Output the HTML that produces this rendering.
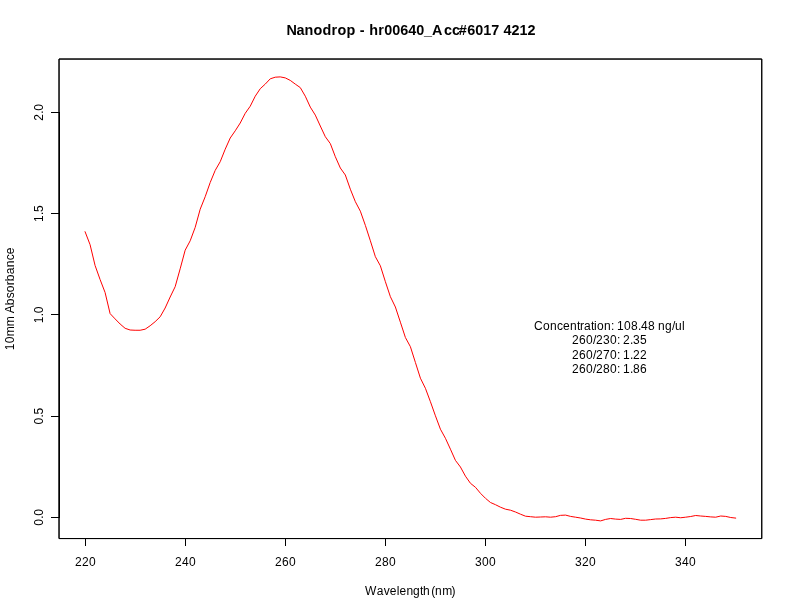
<!DOCTYPE html>
<html><head><meta charset="utf-8"><title>Nanodrop</title>
<style>
html,body{margin:0;padding:0;background:#fff;}
body{width:792px;height:612px;overflow:hidden;}
svg{display:block;will-change:transform;}
text{font-family:"Liberation Sans",sans-serif;font-size:12px;fill:#000;}
</style></head><body>
<svg width="792" height="612" viewBox="0 0 792 612">
<rect width="792" height="612" fill="#fff"/>
<rect x="59.04" y="59.04" width="702.72" height="479.52" fill="none" stroke="#000" stroke-width="1" stroke-linejoin="round"/>
<rect x="59.04" y="59.04" width="702.72" height="479.52" fill="none" stroke="#000" stroke-width="1" stroke-linejoin="round"/>
<path d="M85.00 538.50H686.00" stroke="#000" stroke-width="1" fill="none"/>
<path d="M85.50 538.00V546.00" stroke="#000" stroke-width="1" fill="none"/>
<text x="75.00 82.00 89.00" y="566.00">220</text>
<path d="M185.50 538.00V546.00" stroke="#000" stroke-width="1" fill="none"/>
<text x="175.00 182.00 189.00" y="566.00">240</text>
<path d="M285.50 538.00V546.00" stroke="#000" stroke-width="1" fill="none"/>
<text x="275.00 282.00 289.00" y="566.00">260</text>
<path d="M385.50 538.00V546.00" stroke="#000" stroke-width="1" fill="none"/>
<text x="375.00 382.00 389.00" y="566.00">280</text>
<path d="M485.50 538.00V546.00" stroke="#000" stroke-width="1" fill="none"/>
<text x="475.00 482.00 489.00" y="566.00">300</text>
<path d="M585.50 538.00V546.00" stroke="#000" stroke-width="1" fill="none"/>
<text x="575.00 582.00 589.00" y="566.00">320</text>
<path d="M685.50 538.00V546.00" stroke="#000" stroke-width="1" fill="none"/>
<text x="675.00 682.00 689.00" y="566.00">340</text>
<path d="M51.00 517.50H60.00" stroke="#000" stroke-width="1" fill="none"/>
<text transform="translate(43.10 517.35) rotate(-90)" x="-8.50 -1.50 1.50" y="0">0.0</text>
<path d="M51.00 416.50H60.00" stroke="#000" stroke-width="1" fill="none"/>
<text transform="translate(43.10 416.10) rotate(-90)" x="-8.50 -1.50 1.50" y="0">0.5</text>
<path d="M51.00 314.50H60.00" stroke="#000" stroke-width="1" fill="none"/>
<text transform="translate(43.10 314.85) rotate(-90)" x="-8.50 -1.50 1.50" y="0">1.0</text>
<path d="M51.00 213.50H60.00" stroke="#000" stroke-width="1" fill="none"/>
<text transform="translate(43.10 213.60) rotate(-90)" x="-8.50 -1.50 1.50" y="0">1.5</text>
<path d="M51.00 112.50H60.00" stroke="#000" stroke-width="1" fill="none"/>
<text transform="translate(43.10 112.35) rotate(-90)" x="-8.50 -1.50 1.50" y="0">2.0</text>
<path d="M59.50 112.00V518.00" stroke="#000" stroke-width="1" fill="none"/>
<text x="365.00 376.80 383.70 389.70 396.70 399.60 406.40 413.00 420.00 423.00 431.30 435.10 442.30 451.60" y="595.00">Wavelength(nm)</text>
<text transform="translate(14.30 298.80) rotate(-90)" x="-51.50 -44.50 -37.50 -27.50 -17.50 -14.50 -6.50 0.50 6.50 13.50 17.50 24.50 31.50 38.50 44.50" y="0">10mm Absorbance</text>
<text x="286.50 296.50 304.50 313.50 322.50 331.50 337.50 346.50 355.50 359.80 365.00 369.30 378.30 384.30 392.30 400.30 408.30 416.30 424.00 432.00 444.00 452.00 458.80 467.20 475.20 483.20 491.20 499.20 503.40 511.40 519.40 527.40" y="35.00" style="font-size:14.4px;font-weight:bold">Nanodrop - hr00640_Acc#6017 4212</text>
<text x="534.00 543.00 550.00 557.00 563.00 570.00 577.00 580.00 584.00 591.00 594.00 597.00 604.00 611.00 614.00 617.00 624.00 631.00 638.00 641.00 648.00 655.00 658.00 665.00 672.00 675.00 682.00" y="330.00">Concentration: 108.48 ng/ul</text>
<text x="572.00 579.00 586.00 593.00 596.00 603.00 610.00 617.00 620.00 623.00 630.00 633.00 640.00" y="344.00">260/230: 2.35</text>
<text x="572.00 579.00 586.00 593.00 596.00 603.00 610.00 617.00 620.00 623.00 630.00 633.00 640.00" y="359.00">260/270: 1.22</text>
<text x="572.00 579.00 586.00 593.00 596.00 603.00 610.00 617.00 620.00 623.00 630.00 633.00 640.00" y="373.00">260/280: 1.86</text>
<polyline points="85.07,231.70 90.08,244.70 95.08,265.50 100.09,279.50 105.09,292.50 110.10,313.60 115.10,318.90 120.11,324.00 125.11,328.30 130.12,330.00 135.12,330.25 140.13,330.25 145.13,329.20 150.14,325.75 155.14,321.70 160.15,316.80 165.15,308.00 170.16,297.00 175.16,286.70 180.17,268.80 185.17,250.20 190.18,240.80 195.18,227.40 200.19,209.20 205.19,196.70 210.20,182.50 215.20,170.40 220.21,161.70 225.21,149.20 230.22,138.00 235.22,130.80 240.23,123.00 245.23,113.30 250.24,106.20 255.24,96.20 260.25,88.70 265.25,84.10 270.26,78.80 275.26,77.20 280.27,76.90 285.27,77.90 290.28,80.40 295.28,84.10 300.29,87.60 305.29,96.20 310.30,107.10 315.30,115.10 320.31,126.00 325.31,136.70 330.32,143.60 335.32,156.70 340.33,168.00 345.34,175.00 350.34,189.20 355.35,201.70 360.35,211.20 365.36,225.40 370.36,240.80 375.37,256.70 380.37,265.80 385.38,281.70 390.38,296.70 395.39,307.00 400.39,322.20 405.40,337.50 410.40,346.70 415.41,362.50 420.41,378.20 425.42,388.30 430.42,401.70 435.43,415.80 440.43,429.20 445.44,438.30 450.44,449.20 455.45,460.40 460.45,467.00 465.46,476.20 470.46,483.30 475.47,487.30 480.47,493.30 485.48,498.30 490.48,502.50 495.49,504.70 500.49,507.20 505.50,509.20 510.50,510.20 515.51,512.00 520.51,514.20 525.52,516.20 530.52,516.70 535.53,517.20 540.53,517.00 545.54,516.80 550.54,517.20 555.55,516.70 560.55,515.35 565.56,515.10 570.56,516.40 575.57,517.20 580.57,518.00 585.58,519.10 590.59,519.80 595.59,520.20 600.60,520.90 605.60,519.40 610.61,518.50 615.61,519.10 620.62,519.40 625.62,518.30 630.63,518.50 635.63,519.30 640.64,520.20 645.64,520.20 650.65,519.60 655.65,519.00 660.66,518.90 665.66,518.40 670.67,517.60 675.67,517.20 680.68,517.75 685.68,517.20 690.69,516.50 695.69,515.50 700.70,516.00 705.70,516.40 710.71,516.90 715.71,517.20 720.72,516.00 725.72,516.40 730.73,517.50 735.73,518.10" fill="none" stroke="#ff0000" stroke-width="1" stroke-linejoin="round" stroke-linecap="round"/>
</svg>
</body></html>
